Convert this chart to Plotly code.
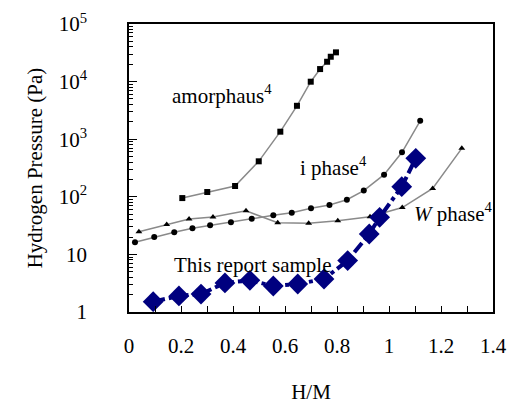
import plotly.graph_objects as go

# H/M vs hydrogen pressure (Pa)
amor_x = [0.205, 0.301, 0.408, 0.499, 0.582, 0.646, 0.699, 0.735, 0.762, 0.776, 0.796]
amor_y = [95, 121, 154, 413, 1350, 3800, 9960, 16500, 22100, 27000, 32200]

iph_x = [0.023, 0.097, 0.174, 0.244, 0.312, 0.392, 0.472, 0.555, 0.626, 0.700, 0.771, 0.838, 0.903, 0.981, 1.050, 1.120]
iph_y = [16.2, 20, 24.2, 28.4, 32, 36, 41.7, 47.7, 53, 63, 72, 89, 128, 242, 592, 2090]

wph_x = [0.038, 0.145, 0.231, 0.323, 0.450, 0.572, 0.691, 0.803, 0.927, 1.051, 1.168, 1.280]
wph_y = [24.8, 33, 41, 44.6, 57, 35.5, 34.7, 38.5, 45, 65, 140, 694]

smp_x = [0.093, 0.192, 0.277, 0.369, 0.465, 0.555, 0.649, 0.750, 0.841, 0.924, 0.964, 1.049, 1.103]
smp_y = [1.51, 1.9, 2.05, 3.2, 3.55, 2.83, 3.06, 3.74, 7.8, 22.6, 44, 150, 466]

y_tickvals = [1, 10, 100, 1000, 10000, 100000]
y_ticktext = ["1", "10", "10<sup>2</sup>", "10<sup>3</sup>", "10<sup>4</sup>", "10<sup>5</sup>"]
y_minor = [k * 10 ** d for d in range(5) for k in range(2, 10)]

FONT = "Liberation Serif"
grey = "#8a8a8a"

fig = go.Figure()
fig.add_trace(go.Scatter(x=amor_x, y=amor_y, mode="lines+markers",
                         line=dict(color=grey, width=1.5),
                         marker=dict(symbol="square", size=6, color="black")))
fig.add_trace(go.Scatter(x=iph_x, y=iph_y, mode="lines+markers",
                         line=dict(color=grey, width=1.5),
                         marker=dict(symbol="circle", size=6, color="black")))
fig.add_trace(go.Scatter(x=wph_x, y=wph_y, mode="lines+markers",
                         line=dict(color=grey, width=1.5),
                         marker=dict(symbol="triangle-up", size=6, color="black")))
fig.add_trace(go.Scatter(x=smp_x, y=smp_y, mode="lines+markers",
                         line=dict(color="#00007f", width=4, dash="dashdot"),
                         marker=dict(symbol="diamond", size=16, color="#00007f")))

annots = [
    (0.158, 3.78, "amorphaus<sup>4</sup>"),
    (0.650, 2.52, "i phase<sup>4</sup>"),
    (1.090, 1.72, "<i>W</i> phase<sup>4</sup>"),
    (0.166, 0.82, "This report sample"),
]
for ax_, ay_, t in annots:
    fig.add_annotation(x=ax_, y=ay_, text=t, showarrow=False, xanchor="left",
                       yanchor="middle", font=dict(family=FONT, size=21, color="black"))

fig.update_layout(
    width=517, height=404,
    margin=dict(l=129, r=24, t=24, b=92),
    paper_bgcolor="white", plot_bgcolor="white",
    showlegend=False,
    font=dict(family=FONT, size=21, color="black"),
)
fig.update_xaxes(
    range=[0, 1.4], dtick=0.2, tick0=0, automargin=False,
    showline=True, linecolor="black", linewidth=1.5, mirror=True,
    ticks="inside", ticklen=6, tickcolor="black",
    minor=dict(dtick=0.1, ticks="inside", ticklen=6, tickcolor="black"),
    showgrid=False, zeroline=False,
    ticklabelstandoff=14,
    title=dict(text="H/M", font=dict(family=FONT, size=21), standoff=28),
)
fig.update_yaxes(
    type="log", range=[0, 5], automargin=False,
    tickvals=y_tickvals, ticktext=y_ticktext,
    showline=True, linecolor="black", linewidth=1.5, mirror=True,
    ticks="inside", ticklen=8, tickcolor="black",
    minor=dict(tickvals=y_minor, ticks="inside", ticklen=4, tickcolor="black"),
    showgrid=False, zeroline=False,
    ticklabelstandoff=36,
    title=dict(text="Hydrogen Pressure (Pa)", font=dict(family=FONT, size=21), standoff=10),
)

fig.write_html("out.html")
